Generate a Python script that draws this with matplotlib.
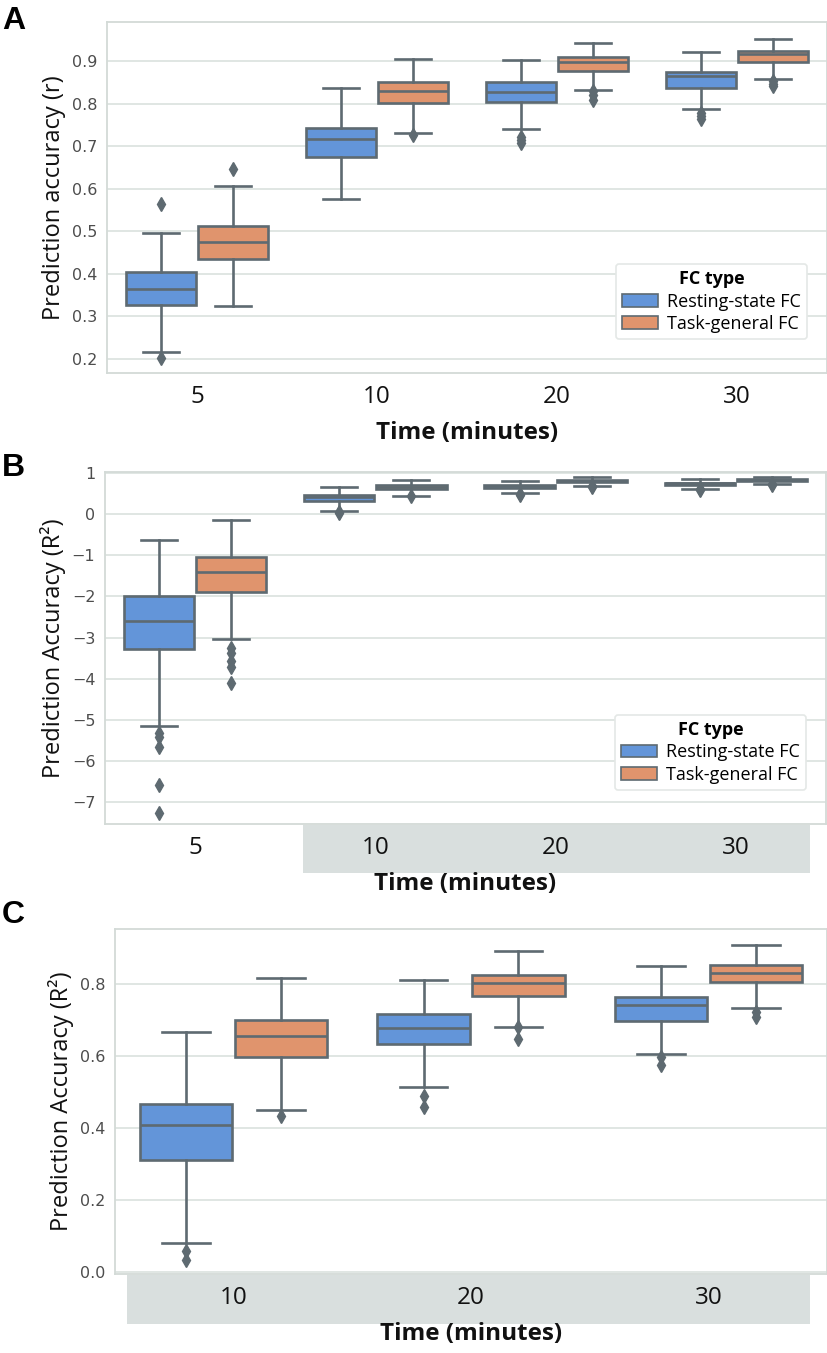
import matplotlib
matplotlib.use("Agg")
import matplotlib.pyplot as plt
from matplotlib.patches import Rectangle, Patch

# ---------------- data ----------------
times_all = ["5", "10", "20", "30"]
fc_types = ["Resting-state FC", "Task-general FC"]

# Panel A: prediction accuracy (r)
r_rest_whislo = [0.216, 0.575, 0.741, 0.788]
r_rest_q1 = [0.327, 0.674, 0.803, 0.837]
r_rest_med = [0.364, 0.716, 0.828, 0.864]
r_rest_q3 = [0.405, 0.743, 0.850, 0.874]
r_rest_whishi = [0.497, 0.837, 0.902, 0.921]
r_rest_fliers = [[0.564, 0.203], [], [0.722, 0.715, 0.707], [0.777, 0.770, 0.763]]

r_task_whislo = [0.324, 0.732, 0.831, 0.858]
r_task_q1 = [0.435, 0.802, 0.878, 0.898]
r_task_med = [0.476, 0.830, 0.899, 0.916]
r_task_q3 = [0.513, 0.852, 0.909, 0.923]
r_task_whishi = [0.607, 0.906, 0.943, 0.953]
r_task_fliers = [[0.647], [0.726], [0.830, 0.820, 0.808], [0.853, 0.847, 0.841]]

# Panels B/C: prediction accuracy (R^2)
r2_rest_whislo = [-5.15, 0.081, 0.515, 0.605]
r2_rest_q1 = [-3.29, 0.310, 0.634, 0.697]
r2_rest_med = [-2.60, 0.407, 0.676, 0.742]
r2_rest_q3 = [-1.98, 0.467, 0.716, 0.764]
r2_rest_whishi = [-0.64, 0.665, 0.811, 0.848]
r2_rest_fliers = [[-5.32, -5.42, -5.67, -6.58, -7.27], [0.060, 0.033], [0.490, 0.458], [0.598, 0.576]]

r2_task_whislo = [-3.03, 0.449, 0.681, 0.733]
r2_task_q1 = [-1.89, 0.598, 0.766, 0.804]
r2_task_med = [-1.42, 0.656, 0.803, 0.830]
r2_task_q3 = [-1.04, 0.700, 0.824, 0.853]
r2_task_whishi = [-0.15, 0.816, 0.890, 0.909]
r2_task_fliers = [[-3.26, -3.38, -3.56, -3.71, -4.11], [0.432], [0.681, 0.647], [0.723, 0.709]]

# ---------------- style ----------------
BLUE = "#6395d9"
ORANGE = "#e0946d"
EDGE = "#5e6a71"
GRID = "#dde4e1"
SPINE = "#d3dad7"
BAND = "#d9dfde"
LW = 1.9

W, H = 828, 1353
fig = plt.figure(figsize=(W / 100, H / 100), dpi=100)


def ax_at(left, top, right, bottom):
    return fig.add_axes([left / W, 1 - bottom / H, (right - left) / W, (bottom - top) / H])


def stats(whislo, q1, med, q3, whishi, fliers, idx):
    out = []
    for i in idx:
        out.append(dict(whislo=whislo[i], q1=q1[i], med=med[i], q3=q3[i],
                        whishi=whishi[i], fliers=fliers[i]))
    return out


def draw(ax, rest, task, labels, ylim, yticks, yfmt, ylabel):
    n = len(labels)
    for j, (st, col) in enumerate([(rest, BLUE), (task, ORANGE)]):
        pos = [i + (j - 0.5) * 0.4 for i in range(n)]
        ax.bxp(st, positions=pos, widths=0.39, capwidths=0.2, patch_artist=True,
               showfliers=True, manage_ticks=False,
               boxprops=dict(facecolor=col, edgecolor=EDGE, linewidth=LW),
               medianprops=dict(color=EDGE, linewidth=LW),
               whiskerprops=dict(color=EDGE, linewidth=LW),
               capprops=dict(color=EDGE, linewidth=LW),
               flierprops=dict(marker="d", markerfacecolor=EDGE, markeredgecolor=EDGE,
                               markersize=7, linestyle="none"))
    ax.set_xlim(-0.5, n - 0.5)
    ax.set_ylim(*ylim)
    ax.set_xticks(range(n))
    ax.set_xticklabels(labels, fontfamily="Open Sans", fontsize=17.5, color="#111111")
    ax.set_yticks(yticks)
    ax.set_yticklabels([yfmt(v) for v in yticks], fontfamily="DejaVu Sans", fontsize=11.5,
                       color="#4d4d4d")
    ax.tick_params(axis="both", length=0, pad=7)
    ax.tick_params(axis="x", pad=9)
    ax.set_axisbelow(True)
    ax.yaxis.grid(True, color=GRID, linewidth=1.3)
    ax.xaxis.grid(False)
    for s in ax.spines.values():
        s.set_color(SPINE)
        s.set_linewidth(1.3)
    ax.set_ylabel(ylabel, fontfamily="Open Sans", fontsize=17, color="#111111")
    ax.set_xlabel("Time (minutes)", fontfamily="Open Sans", fontweight="bold", fontsize=17.5,
                  color="#111111", labelpad=8)


def legend(ax):
    handles = [Patch(facecolor=BLUE, edgecolor=EDGE, linewidth=1.2, label=fc_types[0]),
               Patch(facecolor=ORANGE, edgecolor=EDGE, linewidth=1.2, label=fc_types[1])]
    lg = ax.legend(handles=handles, title="FC type", loc="lower right",
                   bbox_to_anchor=(0.985, 0.07),
                   prop=dict(family="Open Sans", size=13),
                   title_fontproperties=dict(family="Open Sans", size=13, weight="bold"),
                   frameon=True, fancybox=True, framealpha=1, edgecolor="#e4e8e6",
                   handlelength=2.0, handleheight=0.7, handletextpad=0.5,
                   borderpad=0.35, labelspacing=0.25)
    lg.get_frame().set_linewidth(1.2)


# ---------------- Panel A ----------------
axA = ax_at(107, 22, 827, 373)
draw(axA,
     stats(r_rest_whislo, r_rest_q1, r_rest_med, r_rest_q3, r_rest_whishi, r_rest_fliers, range(4)),
     stats(r_task_whislo, r_task_q1, r_task_med, r_task_q3, r_task_whishi, r_task_fliers, range(4)),
     times_all, (0.167, 0.992), [0.2, 0.3, 0.4, 0.5, 0.6, 0.7, 0.8, 0.9],
     lambda v: f"{v:.1f}", "Prediction accuracy (r)")
legend(axA)

# ---------------- Panel B ----------------
fig.patches.append(Rectangle((303 / W, 1 - 873 / H), (810 - 303) / W, (873 - 825) / H,
                             transform=fig.transFigure, facecolor=BAND, edgecolor="none",
                             zorder=-1))
axB = ax_at(105, 472, 826, 824)
draw(axB,
     stats(r2_rest_whislo, r2_rest_q1, r2_rest_med, r2_rest_q3, r2_rest_whishi, r2_rest_fliers, range(4)),
     stats(r2_task_whislo, r2_task_q1, r2_task_med, r2_task_q3, r2_task_whishi, r2_task_fliers, range(4)),
     times_all, (-7.53, 1.02), [1, 0, -1, -2, -3, -4, -5, -6, -7],
     lambda v: f"{v:d}".replace("-", "\u2212"), "Prediction Accuracy (R\u00b2)")
legend(axB)

# ---------------- Panel C ----------------
fig.patches.append(Rectangle((127 / W, 1 - 1324 / H), (810 - 127) / W, (1324 - 1275) / H,
                             transform=fig.transFigure, facecolor=BAND, edgecolor="none",
                             zorder=-1))
axC = ax_at(115, 929, 827, 1274)
draw(axC,
     stats(r2_rest_whislo, r2_rest_q1, r2_rest_med, r2_rest_q3, r2_rest_whishi, r2_rest_fliers, range(1, 4)),
     stats(r2_task_whislo, r2_task_q1, r2_task_med, r2_task_q3, r2_task_whishi, r2_task_fliers, range(1, 4)),
     times_all[1:], (-0.005, 0.952), [0.0, 0.2, 0.4, 0.6, 0.8],
     lambda v: f"{v:.1f}", "Prediction Accuracy (R\u00b2)")

# panel letters
for letter, y in [("A", 6), ("B", 453), ("C", 900)]:
    fig.text(2 / W, 1 - y / H, letter, fontfamily="Liberation Sans", fontweight="bold",
             fontsize=23, va="top", ha="left", color="black")

fig.savefig("out.png", dpi=100)
